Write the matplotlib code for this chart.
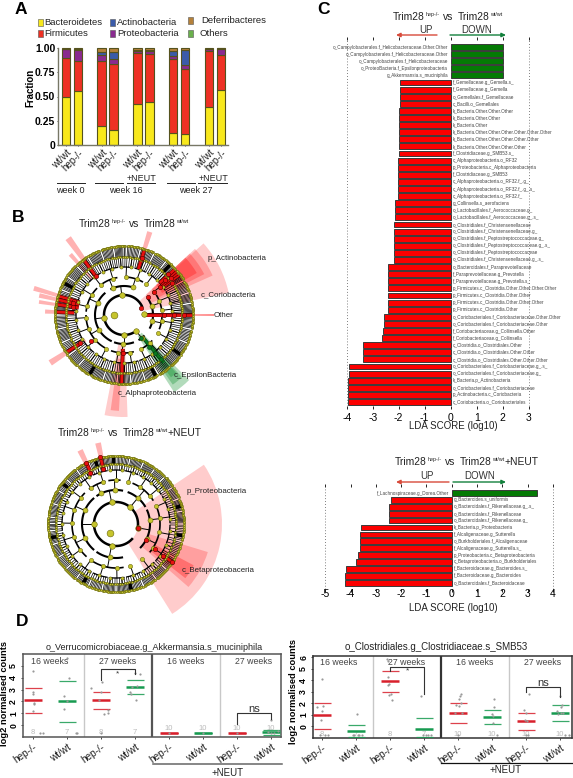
import numpy as np
import matplotlib
matplotlib.use('Agg')
import matplotlib.pyplot as plt
from matplotlib.patches import Wedge, Rectangle

plt.rcParams['font.family'] = ['Liberation Sans', 'DejaVu Sans']

W, H = 573, 778

# ---- panel A
a_groups = ['wt/wt', 'hep-/-'] * 5
a_bact = [.50, .56, .195, .15, .42, .44, .125, .11, .39, .565]
a_firm = [.40, .31, .675, .68, .53, .50, .765, .675, .575, .365]
a_prot = [.09, .11, .06, .06, .02, .03, .03, .04, .02, .055]
a_acti = [.00, .01, .03, .07, .01, .01, .05, .155, .005, .01]
a_defe = [.01, .01, .04, .04, .02, .02, .03, .02, .01, .005]
a_cols = ['#f8e81c', '#ee3124', '#8a2a90', '#3b5ba9', '#b5813a']
a_pos = [0, 1, 3, 4, 6, 7, 9, 10, 12, 13]

# ---- panel C
c1_green_labels = ['o_Campylobacterales.f_Helicobacteraceae.Other.Other',
                   'o_Campylobacterales.f_Helicobacteraceae.Other',
                   'o_Campylobacterales.f_Helicobacteraceae',
                   'o_ProteoBacteria.f_Epsilonproteobacteria',
                   'g_Akkermansia.s_muciniphila']
c1_green = [2.03, 2.03, 2.03, 2.03, 2.03]
c1_red_labels = ['f_Gemellaceae.g_Gemella.s_', 'f_Gemellaceae.g_Gemella', 'o_Gemellales.f_Gemellaceae',
                 'c_Bacilli.o_Gemellales', 'k_Bacteria.Other.Other.Other', 'k_Bacteria.Other.Other',
                 'k_Bacteria.Other', 'k_Bacteria.Other.Other.Other.Other.Other.Other',
                 'k_Bacteria.Other.Other.Other.Other.Other', 'k_Bacteria.Other.Other.Other.Other',
                 'f_Clostridiaceae.g_SMB53.s_', 'c_Alphaproteobacteria.o_RF32',
                 'p_Proteobacteria.c_Alphaproteobacteria', 'f_Clostridiaceae.g_SMB53',
                 'c_Alphaproteobacteria.o_RF32.f_.g_', 'c_Alphaproteobacteria.o_RF32.f_.g_.s_',
                 'c_Alphaproteobacteria.o_RF32.f_', 'g_Collinsella.s_aerofaciens',
                 'o_Lactobacillales.f_Aerococcaceae.g_', 'o_Lactobacillales.f_Aerococcaceae.g_.s_',
                 'o_Clostridiales.f_Christensenellaceae', 'o_Clostridiales.f_Christensenellaceae.g_',
                 'o_Clostridiales.f_Peptostreptococcaceae.g_', 'o_Clostridiales.f_Peptostreptococcaceae.g_.s_',
                 'o_Clostridiales.f_Peptostreptococcaceae', 'o_Clostridiales.f_Christensenellaceae.g_.s_',
                 'o_Bacteroidales.f_Paraprevotellaceae', 'f_Paraprevotellaceae.g_Prevotella',
                 'f_Paraprevotellaceae.g_Prevotella.s_', 'p_Firmicutes.c_Clostridia.Other.Other.Other.Other',
                 'p_Firmicutes.c_Clostridia.Other.Other', 'p_Firmicutes.c_Clostridia.Other.Other.Other',
                 'p_Firmicutes.c_Clostridia.Other', 'o_Coriobacteriales.f_Coriobacteriaceae.Other.Other',
                 'o_Coriobacteriales.f_Coriobacteriaceae.Other', 'f_Coriobacteriaceae.g_Collinsella.Other',
                 'f_Coriobacteriaceae.g_Collinsella', 'c_Clostridia.o_Clostridiales.Other',
                 'c_Clostridia.o_Clostridiales.Other.Other', 'c_Clostridia.o_Clostridiales.Other.Other.Other',
                 'o_Coriobacteriales.f_Coriobacteriaceae.g_.s_', 'o_Coriobacteriales.f_Coriobacteriaceae.g_',
                 'k_Bacteria.p_Actinobacteria', 'o_Coriobacteriales.f_Coriobacteriaceae',
                 'p_Actinobacteria.c_Coriobacteria', 'c_Coriobacteria.o_Coriobacteriales']
c1_red = [-1.95, -1.95, -1.95, -1.95, -1.97, -1.97, -1.97, -1.97, -1.97, -1.97,
          -2.00, -2.02, -2.02, -2.02, -2.02, -2.02, -2.02, -2.13, -2.14, -2.14,
          -2.17, -2.18, -2.19, -2.19, -2.20, -2.20, -2.40, -2.40, -2.40, -2.43,
          -2.43, -2.43, -2.43, -2.57, -2.58, -2.62, -2.65, -3.38, -3.38, -3.38,
          -3.90, -3.90, -3.95, -3.95, -3.95, -3.95]

c2_green_labels = ['f_Lachnospiraceae.g_Dorea.Other']
c2_green = [3.36]
c2_red_labels = ['g_Bacteroides.s_uniformis', 'o_Bacteroidales.f_Rikenellaceae.g_.s_',
                 'o_Bacteroidales.f_Rikenellaceae', 'o_Bacteroidales.f_Rikenellaceae.g_',
                 'k_Bacteria.p_Proteobacteria', 'f_Alcaligenaceae.g_Sutterella',
                 'o_Burkholderiales.f_Alcaligenaceae', 'f_Alcaligenaceae.g_Sutterella.s_',
                 'p_Proteobacteria.c_Betaproteobacteria', 'c_Betaproteobacteria.o_Burkholderiales',
                 'f_Bacteroidaceae.g_Bacteroides.s_', 'f_Bacteroidaceae.g_Bacteroides',
                 'o_Bacteroidales.f_Bacteroidaceae']
c2_red = [-2.41, -2.46, -2.46, -2.46, -3.57, -3.62, -3.62, -3.62, -3.69, -3.79, -4.18, -4.20, -4.20]

# ---- panel D
d_groups = ['hep-/-', 'wt/wt'] * 4
d1_mean = [2.1, 2.0, 2.1, 3.2, -.7, -.7, -.7, -.6]
d1_up = [3.1, 3.75, 2.8, 3.8, -.7, -.7, -.7, -.4]
d1_lo = [1.05, .3, 1.4, 2.6, -.7, -.7, -.7, -.85]
d1_n = ['8', '7', '8', '7', '10', '10', '10', '10']
d1_pts = [[4.6, 2.8, 2.6, 1.9, 1.8, 1.2, -.7, -.7], [5.7, 4.0, 2.5, 1.4, 2.05, -.7, -.7],
          [3.6, 3.1, 2.8, 2.1, 1.3, 1.0, .9, -.7], [4.4, 4.3, 3.3, 3.2, 2.8, 2.6, 2.1],
          [-.7], [-.7], [-.7], [.4, -.5, -.6, -.7, -.7]]
d1_jit = [[0, 0, 0, .03, .02, 0, .2, .3], [0, .05, -.1, -.1, 0, .25, .3],
          [.03, -.3, 0, -.05, .2, .2, .1, 0], [0, .15, .05, -.1, -.15, -.12, .03],
          [0], [0], [0], [0, .2, -.1, .1, 0]]

d2_mean = [.95, -.4, 3.9, -.2, 1.2, .8, .45, 1.2]
d2_up = [2.05, .1, 4.8, .7, 2.05, 1.4, 1.2, 1.9]
d2_lo = [-.25, -.95, 3.0, -.95, .3, .2, -.3, .5]
d2_pts = [[4.1, 1.8, 1.7, 1.3, .6, -.7, -.7, -.7], [1.1, -.7, -.7, -.7, -.7, -.7],
          [5.8, 5.7, 4.3, 3.7, 3.6, 2.8, 2.7, 2.3], [2.6, -.7, -.7, -.7, -.7],
          [2.8, 2.6, 2.4, 2.0, 1.9, 1.8, 1.2, 1.2, -.7], [2.4, 1.7, 1.1, .9, .3, -.7],
          [2.8, 1.4, 1.2, .6, .5, -.7, -.7], [2.6, 1.9, 1.7, 1.3, 1.2, 1.2, 1.1, -.7, -.7]]
d2_jit = [[0, .02, -.15, 0, -.02, .1, -.05, .18], [.02, .05, -.05, .1, -.1, .18],
          [-.1, -.06, -.05, -.03, -.05, .03, -.02, .05], [-.1, .05, .12, .2, -.02],
          [.08, .05, .02, .1, -.05, .04, -.08, .12, 0], [.05, .05, 0, .03, .02, .15],
          [.08, -.05, 0, -.02, .02, .05, .0], [.0, .05, .03, -.08, .02, .1, -.05, .15, .25]]

# ---- panel B cladograms, angles in degrees from east, radii in px
t1_radii = [20, 29, 38, 48, 58, 69]
t1_l2 = [(75, 118), (130, 245), (250, 290), (-60, -45), (-28, 35)]
t1_l3 = [(60, 85), (100, 125), (135, 175), (180, 240), (250, 285), (-62, -42), (-22, -2), (5, 32)]
t1_l4 = [0, 14, 30, 46, 62, 78, 96, 118, 138, 158, 176, 192, 210, 232, 252, 270, 288, 304, 322, 342, 360]
t1_l5 = [0, 10, 19, 30, 41, 52, 64, 76, 88, 99, 110, 122, 134, 146, 158, 170, 180, 192, 204,
         216, 228, 240, 252, 264, 276, 288, 300, 312, 324, 336, 348, 360]
t1_leaves = [9, 8, 9, 10, 9, 10, 10, 9, 10, 9, 10, 9, 10, 10, 9, 10, 9, 10, 9, 10, 10, 10, 9, 10, 9, 10, 9, 10, 10, 9, 10]
t1_black = [152, 47.5, -62.6, -35, 240]
t1_wedges = [(12, 42, 20, 107, '#ff0000', .2), (24, 43, 30, 97, '#ff0000', .22), (27, 43, 38, 90, '#ff0000', .25),
             (30, 43, 44, 84, '#ff0000', .3), (-101, -88, 30, 102, '#ff0000', .2), (-98, -93, 44, 96, '#ff0000', .25),
             (-57, -45, 25, 92, '#008a20', .3), (-55, -47, 40, 85, '#008a20', .3), (-53, -48, 50, 78, '#008a20', .3),
             (71, 74.5, 48, 87, '#ff0000', .3), (124, 128, 48, 95, '#ff0000', .3), (130, 133, 48, 81, '#ff0000', .3),
             (162, 165, 48, 94, '#ff0000', .3), (165.5, 168.5, 48, 87, '#ff0000', .3), (170, 172.5, 48, 86, '#ff0000', .3),
             (176, 179, 48, 79, '#ff0000', .3), (211, 215, 46, 88, '#ff0000', .3), (-.4, .4, 20, 90, '#ff0000', .7)]
t1_red = [(72.6, 48, 69), (126, 46, 69), (164, 46, 69), (167, 46, 69), (171, 46, 69), (177.5, 50, 69),
          (213, 52, 69), (-92, 34, 69), (0, 20, 69), (36, 48, 69), (38, 48, 69), (40, 48, 69), (42, 48, 69)]
t1_red_nodes = [(23, 19), (36, 30), (38, 38), (38, 46), (40, 54), (43, 60), (38, 60), (34, 58), (126, 48),
                (164, 52), (167, 52), (171, 52), (213, 52), (218, 42), (-92, 38), (0, 40), (0, 50), (0, 60), (72.6, 60)]
t1_green = [(-50, 30, 62)]
t1_green_nodes = [(-53, 29), (-52, 40), (-51, 49), (-50, 58)]

t2_radii = [22, 34, 44, 54, 60, 68]
t2_l2 = [(78, 125), (130, 230), (235, 282), (-45, 25), (30, 70)]
t2_l3 = [(84, 100), (104, 128), (135, 178), (182, 228), (238, 280), (-40, -12), (-8, 22), (32, 68)]
t2_l4 = [0, 15, 32, 48, 65, 82, 98, 116, 134, 152, 170, 188, 206, 226, 244, 262, 280, 298, 316, 338, 360]
t2_l5 = [0, 11, 22, 33, 44, 55, 66, 78, 90, 102, 114, 126, 138, 150, 162, 174, 186, 198, 210,
         222, 234, 246, 258, 270, 282, 294, 306, 318, 330, 345, 360]
t2_leaves = [10, 10, 9, 10, 9, 10, 10, 9, 10, 9, 10, 10, 9, 10, 10, 9, 10, 10, 9, 10, 10, 9, 10, 10, 9, 10, 10, 9, 10, 10]
t2_black = [15.5, 92, 108, 143, 192, 241, 283, -10]
t2_wedges = [(-58, 34, 22, 106, '#ff0000', .2), (-41, -17, 34, 96, '#ff0000', .22), (-38, -28, 44, 88, '#ff0000', .3),
             (114, 118, 54, 82, '#ff0000', .3), (100.5, 104.5, 54, 83, '#ff0000', .3)]
t2_red = [(116, 56, 69), (103, 56, 69), (-34, 57, 68)]
t2_red_nodes = [(-11, 22), (-29, 34), (-33, 46), (-34, 57), (-34, 68), (117, 57), (116, 68), (103, 56), (103, 69)]


def px_axes(x0, y0, x1, y1):
    # axes placed by reference pixel box, y measured from the top
    ax = fig.add_axes([x0 / W, 1 - y1 / H, (x1 - x0) / W, (y1 - y0) / H])
    ax.patch.set_alpha(0)
    return ax


def polar(t, r):
    t = np.radians(t)
    return r * np.cos(t), r * np.sin(t)


def arc(ax, r, t1, t2, lw, col='k'):
    x, y = polar(np.linspace(t1, t2, int(abs(t2 - t1)) + 2), r)
    ax.plot(x, y, color=col, lw=lw, zorder=3, solid_capstyle='butt')


def node(ax, t, r, s, face='#c6c42c', edge='#66660c', z=6):
    x, y = polar(t, r)
    ax.scatter([x], [y], s=s, c=face, edgecolors=edge, linewidths=.4, zorder=z)


def spans(edges):
    return [(edges[i] + 1, edges[i + 1] - 1) for i in range(len(edges) - 1)]


def clado(cx, cy, radii, l2, l3, l4, l5, leaves, black, wedges, red, red_nodes, green, green_nodes,
          root_t, arc1):
    ax = px_axes(cx - 120, cy - 120, cx + 120, cy + 120)
    ax.set_xlim(-120, 120)
    ax.set_ylim(-120, 120)
    ax.axis('off')
    for t1, t2, r0, r1, c, al in wedges:
        ax.add_patch(Wedge((0, 0), r1, t1, t2, width=r1 - r0, fc=c, alpha=al, ec='none', zorder=1))
    node(ax, root_t, radii[0] / 2, 24)
    arc(ax, radii[0], arc1[0], arc1[1], 1.8)
    levels = [l2, l3, spans(l4), spans(l5)]
    lws = [1.5, 1.2, .9, .7]
    sizes = [16, 13, 9, 5]
    for k, lev in enumerate(levels):
        for t1, t2 in lev:
            mid = (t1 + t2) / 2
            x, y = polar(mid, np.array([radii[k], radii[k + 1]]))
            ax.plot(x, y, color='k', lw=.7, zorder=3)
            arc(ax, radii[k + 1], t1, t2, lws[k])
            node(ax, mid, radii[k], sizes[k])
    # leaf spokes in the two outer rings
    for (t1, t2), n in zip(spans(l5), leaves):
        arc(ax, radii[5], t1, t2, 1.0, '#9a9a20')
        for t in np.linspace(t1, t2, n):
            x, y = polar(t, np.array([radii[4], radii[5]]))
            ax.plot(x, y, color='k', lw=.5, zorder=2)
            node(ax, t, radii[5], 2.5, z=5)
        for t in np.linspace(t1, t2, 5):
            x, y = polar(t, np.array([radii[3], radii[4]]))
            ax.plot(x, y, color='k', lw=.5, zorder=2)
            node(ax, t, radii[4], 2.5, z=5)
    for t in black:
        ax.add_patch(Wedge((0, 0), radii[5], t - 1.6, t + 1.6, width=radii[5] - radii[4], fc='k', zorder=3))
    for t, r0, r1 in red:
        x, y = polar(t, np.array([r0, r1]))
        ax.plot(x, y, color='#4a0000', lw=2.8, zorder=4, solid_capstyle='butt')
        ax.plot(x, y, color='#e81010', lw=1.9, zorder=4, solid_capstyle='butt')
    for t, r0, r1 in green:
        x, y = polar(t, np.array([r0, r1]))
        ax.plot(x, y, color='#003a10', lw=2.6, zorder=4, solid_capstyle='butt')
        ax.plot(x, y, color='#0a7a20', lw=1.8, zorder=4, solid_capstyle='butt')
    for t, r in red_nodes:
        node(ax, t, r, 10, '#e81010', '#500000', 7)
    for t, r in green_nodes:
        node(ax, t, r, 8, '#0a7a20', '#003a10', 7)


def lda(x0, x1, y0, y1, zero, unit, first, step, g_lab, g_val, r_lab, r_val, ticks, pad):
    ax = px_axes(x0, y0, x1, y1)
    ax.set_xlim((x0 - zero) / unit, (x1 - zero) / unit)
    ax.set_ylim((y1 - first) / step, (y0 - first) / step)
    labs = g_lab + r_lab
    vals = g_val + r_val
    cols = ['#047a04'] * len(g_val) + ['#fb0000'] * len(r_val)
    pos = np.arange(len(labs))
    ax.barh(pos, vals, height=.84, color=cols, edgecolor='#3a3a3a', linewidth=.7, zorder=3)
    for t in (ticks[0], ticks[-1]):
        ax.axvline(t, color='#555555', lw=.6, ls=(0, (1, 2.5)), zorder=1)
    for i, (lb, v) in enumerate(zip(labs, vals)):
        if v > 0:
            ax.text(-.1, i, lb, ha='right', va='center', fontsize=3.3, color='#444444', zorder=4)
        else:
            ax.text(.09, i, lb, ha='left', va='center', fontsize=3.3, color='#444444', zorder=4)
    for s in ax.spines.values():
        s.set_visible(False)
    ax.set_xticks(ticks)
    ax.set_yticks([])
    ax.tick_params(axis='x', top=True, bottom=True, length=2, width=.6, labelsize=7.5, pad=pad)
    ax.set_xticklabels([str(t) for t in ticks])
    return ax


def dots(x0, y0, x1, y1, ylim, yticks, centers0, means, ups, los, pts, jit, ns, n_y, spine):
    ax = px_axes(x0, y0, x1, y1)
    ax.set_xlim((x0 - centers0) / 34, (x1 - centers0) / 34)
    ax.set_ylim(*ylim)
    for i in range(8):
        c = '#d8202c' if i % 2 == 0 else '#179a50'
        ax.hlines(means[i], i - .26, i + .26, color=c, lw=1.8, zorder=3)
        ax.hlines([ups[i], los[i]], i - .25, i + .25, color=c, lw=.9, alpha=.85, zorder=3)
        ax.scatter(i + np.array(jit[i]), pts[i], s=2.5, c='#999999', linewidths=0, zorder=4)
        ax.text(i, n_y[i], ns[i], ha='center', va='center', fontsize=5.5, color='#bbbbbb', zorder=2)
    ax.axvline(1.5, color='#c8c8c8', lw=1)
    ax.axvline(5.5, color='#c8c8c8', lw=1)
    ax.axvline(3.5, color=spine, lw=1.6)
    for s in ax.spines.values():
        s.set_color(spine)
        s.set_linewidth(1.1)
    ax.set_xticks(range(8))
    ax.set_xticklabels(d_groups, rotation=35, ha='right', rotation_mode='anchor', fontsize=7.2, color='#222222')
    ax.set_yticks(yticks)
    ax.set_yticklabels([str(t) for t in yticks], rotation=90, va='center', fontsize=6.3, fontweight='bold')
    ax.tick_params(length=1.5, width=.5, pad=2)
    for x, lab in zip([.5, 2.5, 4.5, 6.5], ['16 weeks', '27 weeks', '16 weeks', '27 weeks']):
        ax.text(x, ylim[1] - .6, lab, ha='center', va='center', fontsize=6.3, color='#444444')
    return ax


def bracket(ax, x0, x1, top, y0, y1, lab, lab_y, size):
    ax.plot([x0, x0, x1, x1], [y0, top, top, y1], color='#333333', lw=.8, zorder=5)
    ax.text((x0 + x1) / 2, lab_y, lab, ha='center', va='center', fontsize=size, color='#333333', zorder=5)


def sup_title(ov, xc, y, tail, size=7.4):
    # title with small superscripts, laid out piece by piece around centre xc
    small = size * .52
    parts = [('Trim28', size, 0, .5), ('hep-/-', small, -2.5, 4), ('vs', size, 0, 4),
             ('Trim28', size, 0, .5), ('wt/wt', small, -2.5, 0.5)]
    if tail:
        parts.append((tail, size, 0, 0))
    rend = fig.canvas.get_renderer()
    items = []
    total = 0
    for s, fs, dy, gap in parts:
        t = ov.text(0, y + dy, s, fontsize=fs, va='center', ha='left', color='#222222')
        w = t.get_window_extent(rend).width
        items.append((t, w, gap))
        total += w + gap
    x = xc - total / 2
    for t, w, gap in items:
        t.set_x(x)
        x += w + gap


fig = plt.figure(figsize=(W / 100, H / 100), dpi=100)

# panel A bars
ax = px_axes(58, 48, 228, 145)
ax.set_xlim(-.67, 13.6)
ax.set_ylim(0, 1)
bottom = np.zeros(10)
for vals, c in zip([a_bact, a_firm, a_prot, a_acti, a_defe], a_cols):
    ax.bar(a_pos, vals, bottom=bottom, width=.72, color=c, edgecolor='#55521e', linewidth=.8, clip_on=False)
    bottom = bottom + np.array(vals)
for s in ['top', 'right']:
    ax.spines[s].set_visible(False)
for s in ['left', 'bottom']:
    ax.spines[s].set_color('#777766')
    ax.spines[s].set_linewidth(1)
ax.set_yticks([0, .25, .5, .75, 1])
ax.set_yticklabels(['0', '0.25', '0.50', '0.75', '1.00'], fontsize=7.5, fontweight='bold')
ax.set_xticks(a_pos)
ax.set_xticklabels(a_groups, rotation=45, ha='right', rotation_mode='anchor', fontsize=7, color='#222222')
ax.tick_params(length=1, width=.5, pad=1)

# panel B
clado(124, 315, t1_radii, t1_l2, t1_l3, t1_l4, t1_l5, t1_leaves, t1_black, t1_wedges, t1_red, t1_red_nodes,
      t1_green, t1_green_nodes, 180, (23, 300))
clado(116, 524, t2_radii, t2_l2, t2_l3, t2_l4, t2_l5, t2_leaves, t2_black, t2_wedges, t2_red, t2_red_nodes,
      [], [], 236, (-12, 320))

# panel C
lda(330, 560, 40, 406, 450.7, 26, 47, 7.1, c1_green_labels, c1_green, c1_red_labels, c1_red,
    [-4, -3, -2, -1, 0, 1, 2, 3], 3)
lda(320, 560, 487, 589, 451.7, 25.3, 493, 6.9, c2_green_labels, c2_green, c2_red_labels, c2_red,
    [-5, -4, -3, -2, -1, 0, 1, 2, 3, 4], -2)

# panel D
ax = dots(23, 654, 281, 737, (-1, 6), [0, 1, 2, 3, 4, 5], 33, d1_mean, d1_up, d1_lo, d1_pts, d1_jit, d1_n,
          [-.65, -.65, -.65, -.65, -.25, -.25, -.25, -.25], '#555555')
bracket(ax, 2, 3, 4.7, 3.8, 4.3, '*', 4.3, 6)
bracket(ax, 6, 7, 1.0, .1, .55, 'ns', 1.35, 8)
ax = dots(313, 656, 572, 738, (-1, 6.1), [0, 1, 2, 3, 4, 5, 6], 322, d2_mean, d2_up, d2_lo, d2_pts, d2_jit, d1_n,
          [-.7] * 8, '#333333')
bracket(ax, 2, 3, 5.15, 4.8, 2.85, '*', 4.85, 6)
bracket(ax, 6, 7, 3.4, 3.0, 2.55, 'ns', 3.8, 8)

# everything placed by pixel on top: letters, legends, titles, arrows
ov = fig.add_axes([0, 0, 1, 1], zorder=20)
ov.set_xlim(0, W)
ov.set_ylim(H, 0)
ov.axis('off')
ov.patch.set_alpha(0)
for lab, x, y in [('A', 21, 9), ('B', 18, 217), ('C', 323, 9), ('D', 22, 622)]:
    ov.text(x, y, lab, fontsize=12.5, fontweight='bold', ha='center', va='center')

ov.text(30, 88, 'Fraction', fontsize=7, fontweight='bold', rotation=90, ha='center', va='center')

leg = [('Bacteroidetes', 40, 22, 44, '#f8e81c'), ('Firmicutes', 40, 33, 44, '#ee3124'),
       ('Actinobacteria', 112, 22, 117, '#3b5ba9'), ('Proteobacteria', 112, 33, 117, '#8a2a90'),
       ('Deferribacteres', 190, 20, 201, '#b5813a'), ('Others', 190, 33, 199, '#6ab04c')]
for name, bx, by, tx, c in leg:
    ov.add_patch(Rectangle((bx - 2.5, by - 3.5), 5, 7, fc=c, ec='#555555', lw=.4))
    ov.text(tx, by, name, fontsize=6.8, va='center', color='#222222')

for x0, x1 in [(57, 85), (95, 123), (127, 155), (167, 195), (198, 227)]:
    ov.plot([x0, x1], [183, 183], color='#222222', lw=.7)
for lab, x, y in [('week 0', 70, 190), ('week 16', 126, 190), ('week 27', 196, 190),
                  ('+NEUT', 141, 178), ('+NEUT', 213, 178)]:
    ov.text(x, y, lab, fontsize=6.5, ha='center', va='center', color='#222222')

sup_title(ov, 134, 224, '')
sup_title(ov, 130, 433, '+NEUT')
sup_title(ov, 448, 17, '')
sup_title(ov, 467, 462, '+NEUT')
for lab, x, y in [('p_Actinobacteria', 237, 258), ('c_Coriobacteria', 228, 295), ('Other', 223, 315),
                  ('c_EpsilonBacteria', 205, 375), ('c_Alphaproteobacteria', 157, 393),
                  ('p_Proteobacteria', 217, 491), ('c_Betaproteobaceria', 218, 571)]:
    ov.text(x, y, lab, fontsize=5.7, ha='center', va='center', color='#222222')

for up_x, down_x, y_t, y_a, up0, up1, dn0, dn1 in [(426, 477, 30, 35, 437, 396, 450, 506),
                                                   (427, 480, 476, 482, 449, 396, 453, 506)]:
    ov.text(up_x, y_t, 'UP', fontsize=7, ha='center', va='center', color='#333333')
    ov.text(down_x, y_t, 'DOWN', fontsize=7, ha='center', va='center', color='#333333')
    ov.annotate('', xy=(up1, y_a), xytext=(up0, y_a),
                arrowprops=dict(arrowstyle='-|>,head_width=.12,head_length=.25', color='#d84a3a', lw=1,
                                shrinkA=0, shrinkB=0))
    ov.annotate('', xy=(dn1, y_a), xytext=(dn0, y_a),
                arrowprops=dict(arrowstyle='-|>,head_width=.12,head_length=.25', color='#12803c', lw=1,
                                shrinkA=0, shrinkB=0))

for lab, x, y in [('LDA SCORE (log10)', 453, 426), ('LDA SCORE (log10)', 453, 608)]:
    ov.text(x, y, lab, fontsize=7, ha='center', va='center', color='#222222')

ov.text(154, 647, 'o_Verrucomicrobiaceae.g_Akkermansia.s_muciniphila', fontsize=6.45, ha='center', va='center',
        color='#222222')
ov.text(436, 647, 'o_Clostridiales.g_Clostridiaceae.s_SMB53', fontsize=7, ha='center', va='center',
        color='#222222')
for x, y in [(5, 693), (293, 692)]:
    ov.text(x, y, 'log2 normalised counts', fontsize=6.7, fontweight='bold', rotation=90, ha='center', va='center')
ov.plot([153, 282], [764, 764], color='#666666', lw=1.1)
ov.plot([441, 572], [763, 763], color='#111111', lw=.9)
ov.text(228, 773, '+NEUT', fontsize=7, ha='center', va='center', color='#222222')
ov.text(506, 770, '+NEUT', fontsize=7, ha='center', va='center', color='#222222')

fig.savefig('out.png', dpi=100)
